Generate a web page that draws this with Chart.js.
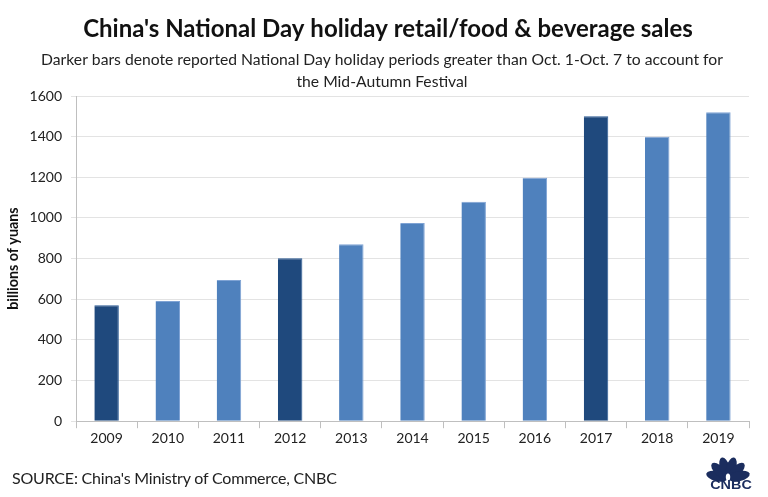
<!DOCTYPE html>
<html><head><meta charset="utf-8">
<script src="https://cdn.jsdelivr.net/npm/chart.js@4"></script>
<style>
html,body{margin:0;padding:0;background:#fff;}
#wrap{position:relative;width:768px;height:497px;}
#c{position:absolute;left:0;top:0;}
#src{position:absolute;left:12px;top:468px;font:16px Lato,"Open Sans",sans-serif;color:#222;letter-spacing:-0.2px;}
#logo{position:absolute;left:706px;top:452px;}
</style></head>
<body><div id="wrap"><canvas id="c" width="768" height="497"></canvas>
<div id="src">SOURCE: China's Ministry of Commerce, CNBC</div>
<canvas id="logo" width="50" height="42"></canvas></div>
<script>
const years = ["2009","2010","2011","2012","2013","2014","2015","2016","2017","2018","2019"];
const sales = [571, 591, 695, 802, 871, 975, 1080, 1198, 1500, 1400, 1520];
const extendedHoliday = [true,false,false,true,false,false,false,false,true,false,false];
const titleText = "China's National Day holiday retail/food & beverage sales";
const subtitleLines = ["Darker bars denote reported National Day holiday periods greater than Oct. 1-Oct. 7 to account for","the Mid-Autumn Festival"];
const yAxisTitle = "billions of yuans";

const DARK = "#1f497d", LIGHT = "#4f81bd";
const FONT = "Lato, 'Open Sans', sans-serif";

const headerPlugin = {
  id: 'header',
  afterDraw(chart) {
    const ctx = chart.ctx;
    ctx.save();
    ctx.textAlign = 'center';
    ctx.textBaseline = 'middle';
    ctx.fillStyle = '#111';
    ctx.font = "bold 24px " + FONT;
    ctx.fillText(titleText, 388, 29);
    ctx.fillStyle = '#222';
    ctx.font = "15.7px " + FONT;
    ctx.fillText(subtitleLines[0], 382, 60);
    ctx.fillText(subtitleLines[1], 382, 82);
    ctx.restore();
  }
};

new Chart(document.getElementById('c'), {
  type: 'bar',
  data: {
    labels: years,
    datasets: [{
      data: sales,
      backgroundColor: extendedHoliday.map(d => d ? DARK : LIGHT),
      borderColor: extendedHoliday.map(d => d ? "#2a5a94" : "#7fa3d4"),
      borderWidth: {top:1,left:0,right:1,bottom:0},
      barPercentage: 0.4,
      categoryPercentage: 1.0
    }]
  },
  plugins: [headerPlugin],
  options: {
    responsive: false,
    animation: false,
    layout: {padding: {left: 5, right: 19, top: 96, bottom: 48}},
    plugins: {
      legend: {display: false},
      tooltip: {enabled: false},
      title: {display: false},
      subtitle: {display: false}
    },
    scales: {
      x: {
        grid: {display: true, drawOnChartArea: false, drawTicks: true, tickLength: 7, color: '#bfbfbf', offset: true},
        border: {color: '#bfbfbf', width: 1},
        ticks: {color: '#222', font: {family: FONT, size: 14}, padding: 2, maxRotation: 0}
      },
      y: {
        min: 0, max: 1600,
        afterFit: s => { s.width = 71; },
        ticks: {stepSize: 200, color: '#222', font: {family: FONT, size: 14}, padding: 9,
          callback: v => String(v)},
        grid: {color: '#e3e3e3', tickLength: 5, drawTicks: true},
        border: {color: '#bfbfbf', width: 1},
        title: {display: true, text: yAxisTitle, color: '#111', font: {family: FONT, size: 14.3, weight: 'bold'}, padding: {top: 0, bottom: 6}}
      }
    }
  }
});

// CNBC logo
(function(){
  const ctx = document.getElementById('logo').getContext('2d');
  const col = '#1b2d5e';
  const cx = 22, cy = 27;
  ctx.fillStyle = col;
  [166, 136, 106, 74, 44, 14].forEach(a => {
    const t = a * Math.PI / 180;
    ctx.beginPath();
    ctx.ellipse(cx + 11.5*Math.cos(t), cy - 11.5*Math.sin(t), 10.8, 5.0, -t, 0, Math.PI*2);
    ctx.fill();
  });
  ctx.fillStyle = '#fff';
  ctx.beginPath(); ctx.ellipse(cx, cy-2, 2.2, 3.5, 0, 0, Math.PI*2); ctx.fill();
  ctx.fillStyle = col;
  ctx.save();
  ctx.translate(25, 37);
  ctx.scale(1.2, 1);
  ctx.font = "bold 12px 'Liberation Sans', Arial, sans-serif";
  ctx.textAlign = 'center';
  ctx.fillText('CNBC', 0, 0);
  ctx.restore();
})();
</script>
</body></html>
